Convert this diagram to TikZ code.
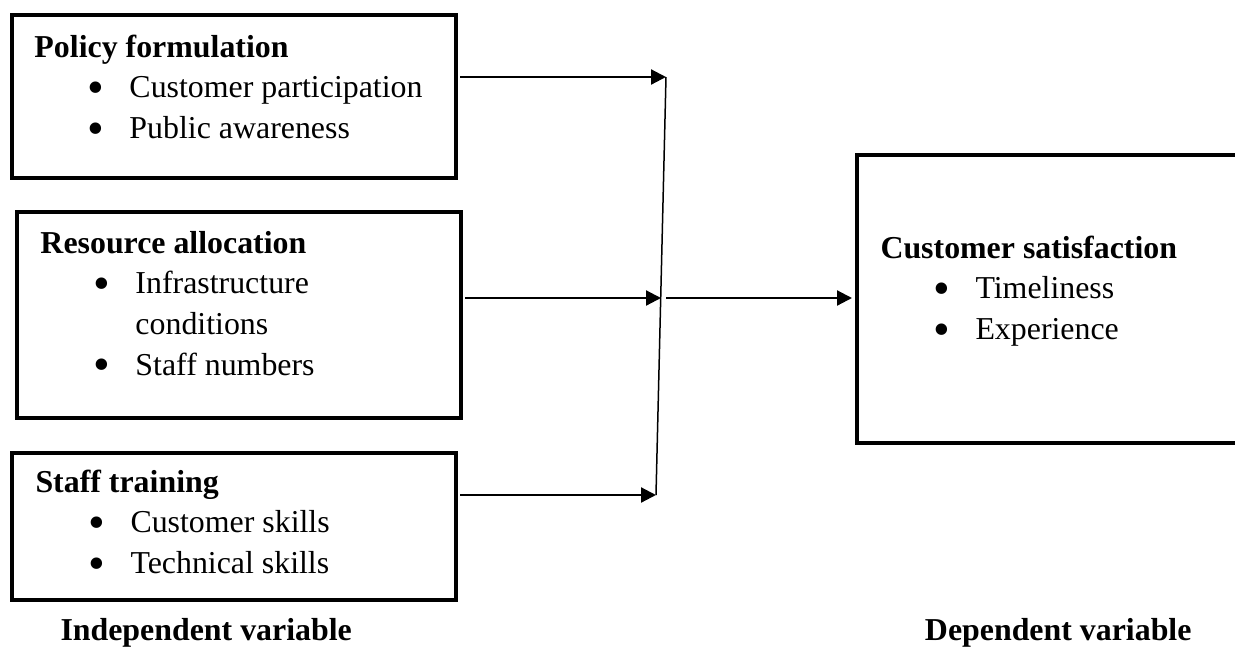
\documentclass[tikz,border=0pt]{standalone}
\usepackage{fontspec}
\setmainfont{Liberation Serif}
\usetikzlibrary{arrows.meta,positioning}
\newcommand{\dotmark}{\raisebox{-0.18em}{\scalebox{1.5}{\textbullet}}}
\newcommand{\bul}[1]{\hspace*{21pt}\makebox[17pt][l]{\dotmark}#1}
\newcommand{\bulcont}[1]{\hspace*{38pt}#1}

\begin{document}
\begin{tikzpicture}[x=0.4pt,y=-0.4pt,
    font=\fontsize{12.75}{16.3}\selectfont,
    varbox/.style={draw,line width=1.8pt,outer sep=0pt,inner sep=0pt,anchor=north west},
    boxtext/.style={anchor=base west,inner sep=0pt},
    link/.style={line width=0.9pt,-{Triangle[length=6pt,width=6pt]}}]
  \useasboundingbox (0,0) rectangle (1235,648);

  % independent variables
  \node[varbox,minimum width=177.6pt,minimum height=65.2pt] (policy) at (12,15) {};
  \node[boxtext] (policytext) at (34,57) {\begin{tabular}[t]{@{}l@{}}
      \textbf{Policy formulation}\\
      \bul{Customer participation}\\
      \bul{Public awareness}
    \end{tabular}};

  \node[varbox,minimum width=177.6pt,minimum height=82.4pt] (resource) at (17,212) {};
  \node[boxtext] (resourcetext) at (40,253) {\begin{tabular}[t]{@{}l@{}}
      \textbf{Resource allocation}\\
      \bul{Infrastructure}\\
      \bulcont{conditions}\\
      \bul{Staff numbers}
    \end{tabular}};

  \node[varbox,minimum width=177.6pt,minimum height=58.8pt] (training) at (12,453) {};
  \node[boxtext] (trainingtext) at (35,492) {\begin{tabular}[t]{@{}l@{}}
      \textbf{Staff training}\\
      \bul{Customer skills}\\
      \bul{Technical skills}
    \end{tabular}};

  % dependent variable
  \node[varbox,minimum width=155.2pt,minimum height=115.2pt] (satisfaction) at (857,155) {};
  \node[boxtext] (satisfactiontext) at (880,258) {\begin{tabular}[t]{@{}l@{}}
      \textbf{Customer satisfaction}\\
      \bul{Timeliness}\\
      \bul{Experience}
    \end{tabular}};

  \node[anchor=base west,inner sep=0pt,font=\fontsize{12.75}{14}\selectfont\bfseries] (indep) at (60,640) {Independent variable};
  \node[anchor=base east,inner sep=0pt,font=\fontsize{12.75}{14}\selectfont\bfseries] (dep) at (1192,640) {Dependent variable};

  % connectors
  \coordinate (jtop) at (666,77);
  \coordinate (jmid) at (661,298);
  \coordinate (jbot) at (656,495);

  \draw[link,shorten <=1.6pt] (policy.east |- jtop) -- (jtop);
  \draw[link,shorten <=1.6pt] (resource.east |- jmid) -- (jmid);
  \draw[link,shorten <=1.6pt] (training.east |- jbot) -- (jbot);
  \draw[line width=0.6pt] (jtop) -- (jbot);
  \draw[link,shorten <=2pt,shorten >=2pt] (jmid) -- (satisfaction.west |- jmid);
\end{tikzpicture}
\end{document}
